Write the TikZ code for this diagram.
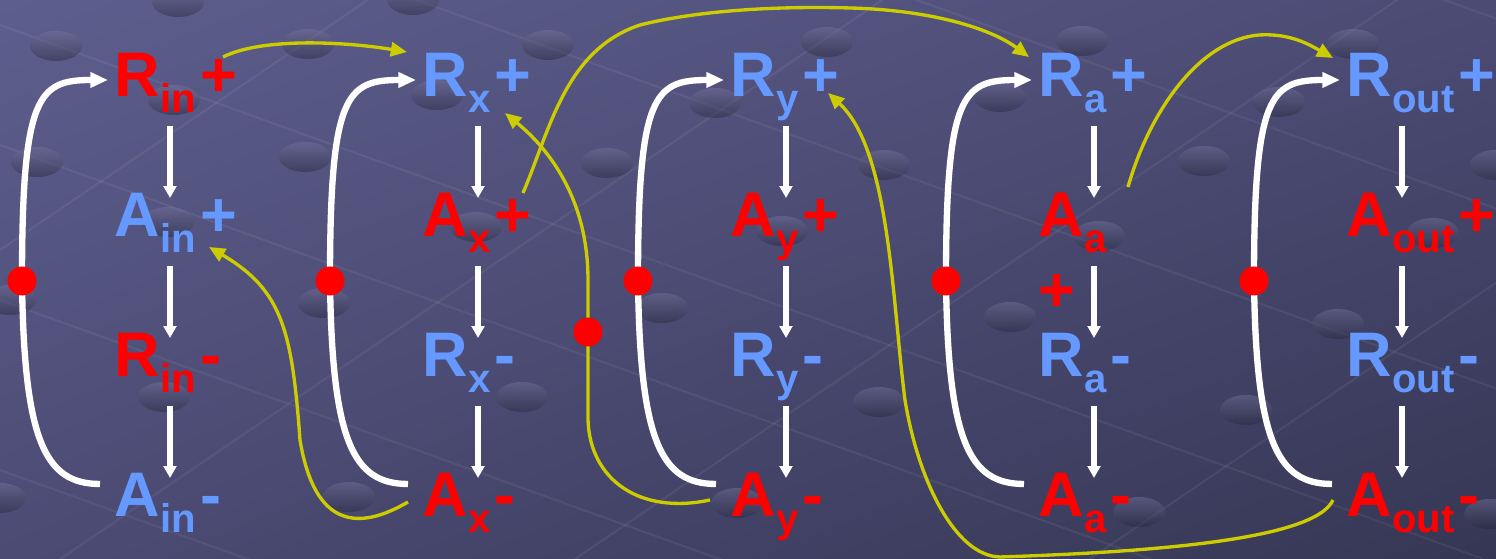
\documentclass[tikz,border=0pt]{standalone}
\usepackage{fontspec}
\setmainfont{Liberation Sans}
\usetikzlibrary{arrows.meta,calc,shadings}

\definecolor{bgtop}{HTML}{5E5E8E}
\definecolor{bgmid}{HTML}{4B4B74}
\definecolor{bgbot}{HTML}{363654}
\definecolor{sigblue}{HTML}{6699FF}
\definecolor{wire}{HTML}{CCCC00}

% signal name with subscript and polarity
\newcommand{\sigl}[3]{#1\raisebox{-4.3pt}{\fontsize{11.4}{12}\selectfont #2}\kern1.2pt#3}

\pgfdeclarelayer{back}
\pgfdeclarelayer{lines}
\pgfsetlayers{back,lines,main}

\tikzset{
  sig/.style={anchor=base west, inner sep=0pt, font=\fontsize{17.9}{20}\selectfont\bfseries},
  on/.style={sig, text=red},
  off/.style={sig, text=sigblue},
  dot/.style={circle, fill=red, minimum size=0.29cm, inner sep=0pt},
  seq/.style={draw=white, line width=1.5pt, -{Triangle[length=3.4pt,width=3.6pt]}},
  ret/.style={draw=white, line width=1.8pt, -{Triangle[length=5pt,width=4.2pt]}},
  link/.style={draw=wire, line width=0.95pt, -{Triangle[length=4.6pt,width=4pt]}},
  bubble/.style={shading angle=35, top color=bgtop!85!white, bottom color=bgbot!70!black, opacity=0.45},
}

\begin{document}
\begin{tikzpicture}[x=0.01cm, y=-0.01cm]

  \useasboundingbox (0,0) rectangle (1496,559);

  \begin{pgfonlayer}{back}
    \shade[upper left=bgtop, upper right=bgmid, lower left=bgmid, lower right=bgbot]
      (0,0) rectangle (1496,559);
    % faint grid and dimples
    \foreach \c in {-520,-330,-150,25,145,300,470}
      \draw[white, opacity=0.06, line width=0.6pt] (0,\c) -- (1496,{\c+0.36*1496});
    \foreach \c in {250,600,950,1300,1650,2000}
      \draw[white, opacity=0.06, line width=0.6pt] (0,\c) -- (1496,{\c-0.68*1496});
    \foreach \x/\y in {56/46,178/2,308/44,413/0,437/95,37/162,305/157,174/100,168/222,
                       476/227,324/303,164/397,349/497,0/498,10/300,548/45,827/42,
                       715/103,607/163,884/165,782/231,662/308,522/397,879/402,737/503,
                       1082/41,1000/97,1279/102,1204/161,1099/236,1353/44,1496/165,
                       1433/233,1010/317,1338/324,1246/410,1139/512,1490/514}
      \shade[bubble] (\x,\y) ellipse (0.26cm and 0.15cm);
  \end{pgfonlayer}

  % column in
  \node[on]  (Rinp)  at (114,97)  {\sigl{R}{in}{+}};
  \node[off] (Ainp)  at (114,237) {\sigl{A}{in}{+}};
  \node[on]  (Rinm)  at (114,377) {\sigl{R}{in}{-}};
  \node[off] (Ainm)  at (114,517) {\sigl{A}{in}{-}};
  % column x
  \node[off] (Rxp)   at (422,97)  {\sigl{R}{x}{+}};
  \node[on]  (Axp)   at (422,237) {\sigl{A}{x}{+}};
  \node[off] (Rxm)   at (422,377) {\sigl{R}{x}{-}};
  \node[on]  (Axm)   at (422,517) {\sigl{A}{x}{-}};
  % column y
  \node[off] (Ryp)   at (730,97)  {\sigl{R}{y}{+}};
  \node[on]  (Ayp)   at (730,237) {\sigl{A}{y}{+}};
  \node[off] (Rym)   at (730,377) {\sigl{R}{y}{-}};
  \node[on]  (Aym)   at (730,517) {\sigl{A}{y}{-}};
  % column a
  \node[off] (Rap)   at (1038,97)  {\sigl{R}{a}{+}};
  \node[on]  (Aap)   at (1038,237) {\sigl{A}{a}{}};
  \node[on, anchor=center] (Aaplus) at (1057,293) {+};
  \node[off] (Ram)   at (1038,377) {\sigl{R}{a}{-}};
  \node[on]  (Aam)   at (1038,517) {\sigl{A}{a}{-}};
  % column out
  \node[off] (Routp) at (1346,97)  {\sigl{R}{out}{+}};
  \node[on]  (Aoutp) at (1346,237) {\sigl{A}{out}{+}};
  \node[off] (Routm) at (1346,377) {\sigl{R}{out}{-}};
  \node[on]  (Aoutm) at (1346,517) {\sigl{A}{out}{-}};

  \node[dot] (d1) at (22,281) {};
  \node[dot] (d2) at (330,281) {};
  \node[dot] (d3) at (638,281) {};
  \node[dot] (d4) at (946,281) {};
  \node[dot] (d5) at (1254,281) {};
  \node[dot] (dy) at (588,332) {};

  \begin{pgfonlayer}{lines}
    % handshake sequence inside each column
    \foreach \a/\b in {Rinp/Ainp,Ainp/Rinm,Rinm/Ainm, Rxp/Axp,Axp/Rxm,Rxm/Axm,
                       Ryp/Ayp,Ayp/Rym,Rym/Aym, Rap/Aap,Aap/Ram,Ram/Aam,
                       Routp/Aoutp,Aoutp/Routm,Routm/Aoutm}
      \draw[seq] ($(\a.base west)+(56,29)$) -- ($(\b.base west)+(56,-39)$);

    % return to zero
    \foreach \a/\d/\b in {Ainm/d1/Rinp, Axm/d2/Rxp, Aym/d3/Ryp, Aam/d4/Rap, Aoutm/d5/Routp}
      \draw[ret] ($(\a.base west)+(-14,-33)$) .. controls +(-55,0) and +(2,160) .. (\d.center)
        .. controls +(0,-186) and +(-70,0) .. ($(\b.base west)+(-6,-17)$);

    % links between stages
    \draw[link] ($(Rinp.base west)+(109,-40)$) .. controls +(40,-20) and +(-60,-10)
      .. ($(Rxp.base west)+(-15,-45)$);
    \draw[link] ($(Axm.base west)+(-14,-15)$) .. controls (360,530) and (315,530) .. (300,440)
      .. controls (292,330) and (282,290) .. ($(Ainp.base west)+(95,10)$);
    \draw[link] ($(Axp.base west)+(101,-44)$) .. controls (550,130) and (565,50) .. (640,25)
      .. controls (700,10) and (780,6) .. (850,8)
      .. controls (930,10) and (990,28) .. ($(Rap.base west)+(-9,-40)$);
    \draw[link] ($(Aym.base west)+(-20,-17)$) .. controls (640,515) and (590,480) .. (588,420)
      -- (dy.center) -- (588,280) .. controls (588,200) and (550,150) .. ($(Rxp.base west)+(83,16)$);
    \draw[link] ($(Aoutm.base west)+(-13,-17)$) .. controls (1315,540) and (1150,552) .. (1000,557)
      .. controls (955,556) and (918,480) .. (905,400)
      .. controls (892,300) and (890,150) .. ($(Ryp.base west)+(98,-4)$);
    \draw[link] ($(Aap.base west)+(90,-50)$) .. controls (1150,110) and (1200,40) .. (1259,35)
      .. controls (1290,33) and (1310,45) .. ($(Routp.base west)+(-13,-39)$);
  \end{pgfonlayer}

\end{tikzpicture}
\end{document}
